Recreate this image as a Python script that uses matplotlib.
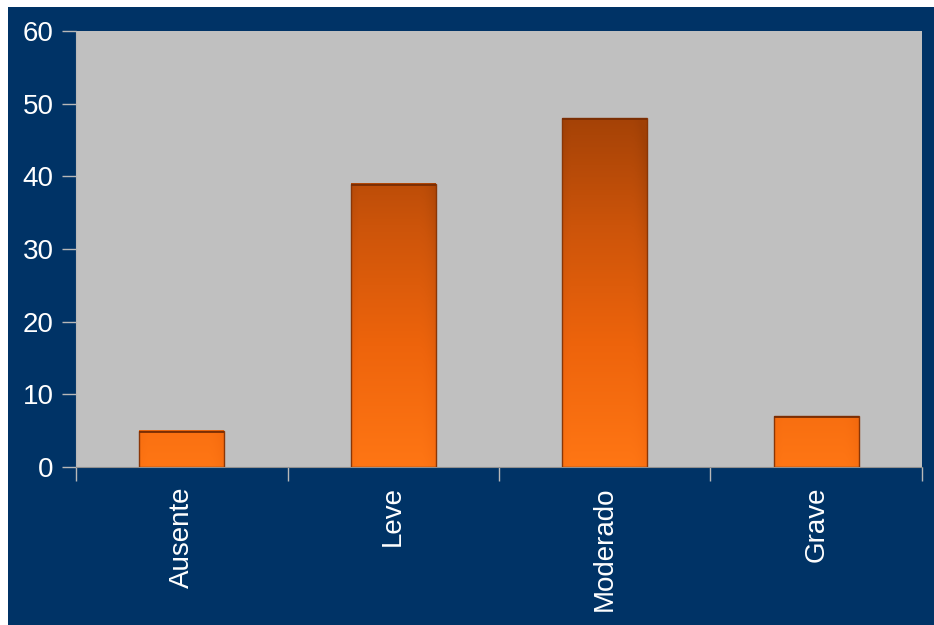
import numpy as np
import matplotlib.pyplot as plt
from matplotlib.patches import Rectangle
from matplotlib.colors import LinearSegmentedColormap

categories = ['Ausente', 'Leve', 'Moderado', 'Grave']
values = [5, 39, 48, 7]
yticks = [0, 10, 20, 30, 40, 50, 60]

navy = '#003366'
plot_gray = '#c0c0c0'

plt.rcParams['font.family'] = ['Liberation Sans', 'DejaVu Sans']

fig = plt.figure(figsize=(9.34, 6.25), dpi=100)
fig.patch.set_facecolor('white')
fig.patches.append(Rectangle((8 / 934, 0), 1, 1 - 7 / 625, transform=fig.transFigure,
                             facecolor=navy, edgecolor='none', zorder=-10))

ax = fig.add_axes([76 / 934, 1 - 467 / 625, (922 - 76) / 934, (467 - 31) / 625])
ax.set_facecolor(plot_gray)

# orange gradient: bright at the base, dark brown toward the top of the axis
cmap = LinearSegmentedColormap.from_list('bar', ['#ff7614', '#ee640c', '#cc540a', '#a04006'])
width = 0.4
for i, v in enumerate(values):
    x0, x1 = i - width / 2, i + width / 2
    ys = np.linspace(0, v, 200)
    xs = np.linspace(0, 1, 60)
    shade = np.clip(ys / 50.0, 0, 1)[:, None] * np.ones((1, len(xs)))
    # darker towards the sides for a little bevel
    side = 0.12 * np.clip((xs - 0.8) / 0.2, 0, 1) ** 2 + 0.06 * np.clip((0.1 - xs) / 0.1, 0, 1)
    img = np.clip(shade + side[None, :], 0, 1)
    ax.imshow(img, extent=(x0, x1, 0, v), origin='lower', aspect='auto',
              cmap=cmap, vmin=0, vmax=1, zorder=2, interpolation='bilinear')
    ax.add_patch(Rectangle((x0, 0), width, v, facecolor='none',
                           edgecolor='#8a3606', linewidth=1.0, zorder=3))
    # darker cap line at the top
    ax.plot([x0, x1], [v - 0.15, v - 0.15], color='#7a2e04', linewidth=1.3, zorder=3,
            solid_capstyle='butt')

ax.set_xlim(-0.5, len(categories) - 0.5)
ax.set_ylim(0, 60)
ax.set_yticks(yticks)
ax.set_xticks(range(len(categories)))
ax.set_xticklabels(categories, rotation=90)
ax.set_xticks(np.arange(-0.5, len(categories)), minor=True)

for s in ['top', 'right']:
    ax.spines[s].set_visible(False)
ax.spines['left'].set_color('#b8b8b8')
ax.spines['bottom'].set_color('#909090')

ax.tick_params(axis='y', colors='white', labelsize=20, length=10, width=1,
               color='#b8b8b8', pad=6)
ax.tick_params(axis='x', which='major', colors='white', labelsize=20, length=0, pad=14)
ax.tick_params(axis='x', which='minor', length=10, width=1, color='#b8b8b8')

fig.savefig('out.png', dpi=100, facecolor=fig.get_facecolor())
